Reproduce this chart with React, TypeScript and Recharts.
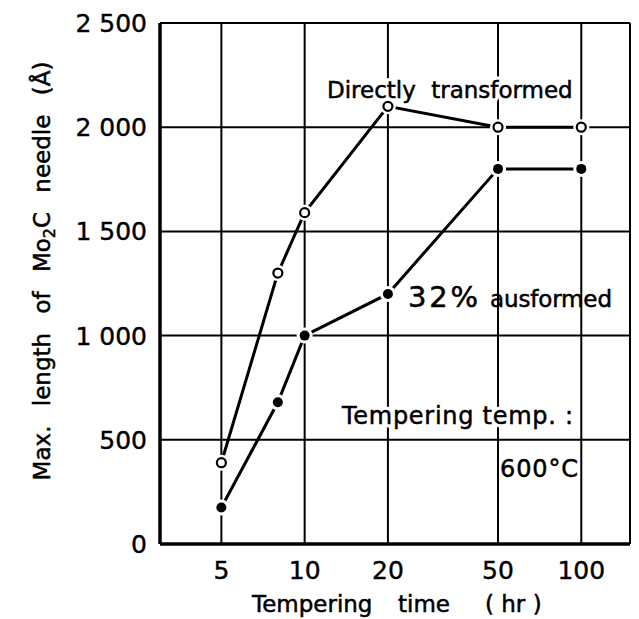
import React from "react";
import {
  LineChart,
  Line,
  XAxis,
  YAxis,
  CartesianGrid,
  Customized,
} from "recharts";

const times = [5, 8, 10, 20, 50, 100];
const directlyTransformed = [390, 1300, 1590, 2100, 2000, 2000];
const ausformed32 = [175, 680, 1000, 1200, 1800, 1800];
const xTicks = [5, 10, 20, 50, 100];
const yTicks = [0, 500, 1000, 1500, 2000, 2500];
const yTickLabels = ["0", "500", "1 000", "1 500", "2 000", "2 500"];

const directData = times.map((t, i) => ({ t, v: directlyTransformed[i] }));
const ausData = times.map((t, i) => ({ t, v: ausformed32[i] }));

const FONT = "'DejaVu Sans', sans-serif";

const OpenDot = (props: any) => {
  const { cx, cy } = props;
  if (cx == null || cy == null) return null;
  return (
    <g>
      <circle cx={cx} cy={cy} r={8} fill="#fff" />
      <circle cx={cx} cy={cy} r={4.5} fill="#fff" stroke="#000" strokeWidth={2.2} />
    </g>
  );
};

const FilledDot = (props: any) => {
  const { cx, cy } = props;
  if (cx == null || cy == null) return null;
  return (
    <g>
      <circle cx={cx} cy={cy} r={8} fill="#fff" />
      <circle cx={cx} cy={cy} r={5} fill="#000" />
    </g>
  );
};

const YTick = (props: any) => {
  const { y, payload } = props;
  const idx = yTicks.indexOf(payload.value);
  return (
    <text x={139} y={y} dy={9} textAnchor="end" fontSize={25} fontFamily={FONT} fill="#000" stroke="#000" strokeWidth={0.4}>
      {idx >= 0 ? yTickLabels[idx] : payload.value}
    </text>
  );
};

const XTick = (props: any) => {
  const { x, payload } = props;
  return (
    <text x={x} y={571} textAnchor="middle" fontSize={25} fontFamily={FONT} fill="#000" stroke="#000" strokeWidth={0.4}>
      {payload.value}
    </text>
  );
};

const T = (props: any) => {
  const { halo, children, ...rest } = props;
  return (
    <g>
      {halo && (
        <text {...rest} fill="#fff" stroke="#fff" strokeWidth={7} strokeLinejoin="round">
          {children}
        </text>
      )}
      <text {...rest} fill="#000" stroke="#000" strokeWidth={0.5}>
        {children}
      </text>
    </g>
  );
};

const Annotations = () => (
  <g fontFamily={FONT} fontSize={23}>
    <T x={319} y={90} halo style={{ wordSpacing: 8 }}>
      Directly transformed
    </T>
    <T x={400} y={299} fontSize={29} textLength={70} lengthAdjust="spacing">32%</T>
    <T x={482} y={299} textLength={122} lengthAdjust="spacing">
      ausformed
    </T>
    <T x={334} y={416} fontSize={24} halo textLength={231} lengthAdjust="spacing">
      Tempering temp. :
    </T>
    <T x={492} y={469} fontSize={24} textLength={78} lengthAdjust="spacing">
      600°C
    </T>
    <T
      x={42}
      y={263}
      transform="rotate(-90, 42, 263)"
      textAnchor="middle"
      style={{ wordSpacing: 12 }}
    >
      Max. length of Mo<tspan fontSize={16} dy={5}>2</tspan><tspan dy={-5}>C needle (Å)</tspan>
    </T>
    <T x={244} y={604}>Tempering</T>
    <T x={390} y={604}>time</T>
    <T x={477} y={604}>( hr )</T>
  </g>
);

export default function App() {
  return (
    <LineChart
      width={631}
      height={611}
      margin={{ top: 15, right: 9, left: 0, bottom: 0 }}
    >
      <CartesianGrid stroke="#000" strokeWidth={2} />
      <XAxis
        dataKey="t"
        type="number"
        scale="log"
        domain={[3, 150]}
        ticks={xTicks}
        allowDataOverflow
        height={75}
        tickLine={false}
        axisLine={{ stroke: "#000", strokeWidth: 3.5 }}
        tick={<XTick />}
      />
      <XAxis
        xAxisId="top"
        orientation="top"
        dataKey="t"
        type="number"
        scale="log"
        domain={[3, 150]}
        allowDataOverflow
        height={0}
        tick={false}
        tickLine={false}
        axisLine={{ stroke: "#000", strokeWidth: 2.5 }}
      />
      <YAxis
        type="number"
        domain={[0, 2500]}
        ticks={yTicks}
        width={152}
        tickLine={false}
        axisLine={{ stroke: "#000", strokeWidth: 3.5 }}
        tick={<YTick />}
      />
      <YAxis
        yAxisId="right"
        orientation="right"
        type="number"
        domain={[0, 2500]}
        width={0}
        tick={false}
        tickLine={false}
        axisLine={{ stroke: "#000", strokeWidth: 3 }}
      />
      <Line
        data={directData}
        dataKey="v"
        stroke="#000"
        strokeWidth={3}
        dot={<OpenDot />}
        isAnimationActive={false}
      />
      <Line
        data={ausData}
        dataKey="v"
        stroke="#000"
        strokeWidth={3}
        dot={<FilledDot />}
        isAnimationActive={false}
      />
      <Customized component={Annotations} />
    </LineChart>
  );
}
